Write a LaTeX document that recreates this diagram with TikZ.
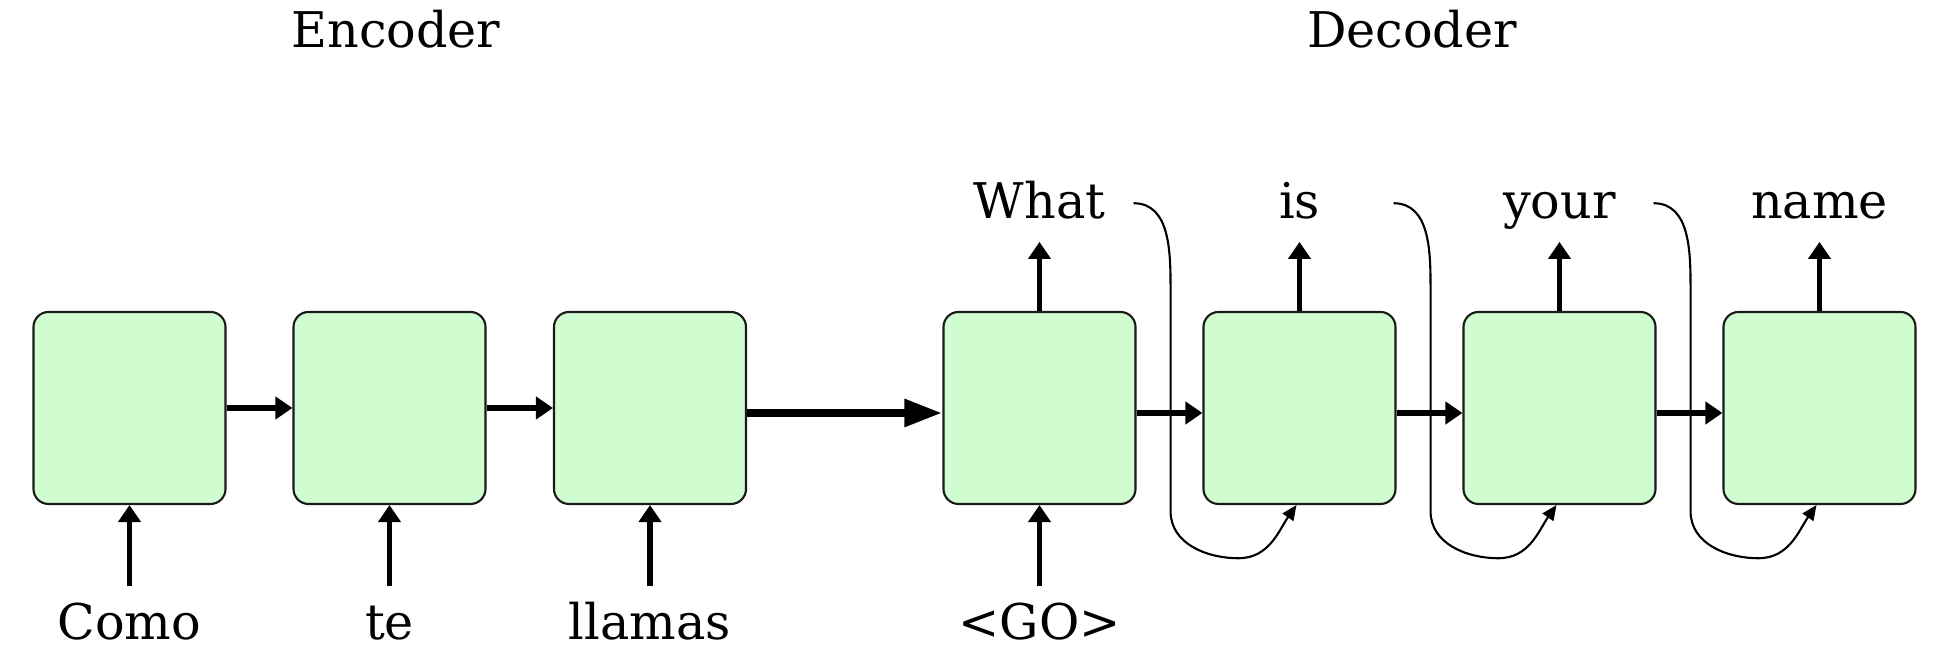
\documentclass[tikz,border=0pt]{standalone}
\usepackage{fontspec}
\setmainfont{DejaVu Serif}
\usepackage{xcolor}
\usepackage{tikz}
\usetikzlibrary{arrows.meta, positioning, calc}
\definecolor{cellgreen}{HTML}{CFFDCF}
\definecolor{celledge}{HTML}{1A1A1A}

\begin{document}
\begin{tikzpicture}[
    every node/.style={font=\fontsize{14}{17}\selectfont},
    cell/.style={rectangle, rounded corners=0.15cm, draw=celledge, line width=0.6pt,
                 fill=cellgreen, minimum width=1.92cm, minimum height=1.92cm},
    word/.style={text height=0.4cm, text depth=0.1cm, inner sep=0.13cm},
    link/.style={-{Triangle[length=0.17cm, width=0.22cm]}, line width=1.7pt},
    bridge/.style={-{Triangle[length=0.38cm, width=0.26cm]}, line width=2.4pt},
    feed/.style={-{Triangle[length=0.15cm, width=0.13cm]}, line width=0.6pt},
]
\useasboundingbox (0, 0) rectangle (19.5, -6.48);

% encoder cells
\node[cell] (e1) at (1.295, -4.08) {};
\node[cell] (e2) at (3.895, -4.08) {};
\node[cell] (e3) at (6.50, -4.08) {};
% decoder cells
\node[cell] (d1) at (10.395, -4.08) {};
\node[cell] (d2) at (12.995, -4.08) {};
\node[cell] (d3) at (15.595, -4.08) {};
\node[cell] (d4) at (18.195, -4.08) {};

\node[anchor=base] (enc) at (3.96, -0.48) {Encoder};
\node[anchor=base] (dec) at (14.12, -0.48) {Decoder};

% inputs
\node[word, below=0.81cm of e1] (in1) {Como};
\node[word, below=0.81cm of e2] (in2) {te};
\node[word, below=0.81cm of e3] (in3) {llamas};
\node[word, below=0.81cm of d1] (go) {<GO>};

% outputs
\node[word, above=0.69cm of d1] (out1) {What};
\node[word, above=0.69cm of d2] (out2) {is};
\node[word, above=0.69cm of d3] (out3) {your};
\node[word, above=0.69cm of d4] (out4) {name};

\foreach \i in {1,2,3} {
    \draw[link] (in\i) -- (e\i);
}
\draw[link] (go) -- (d1);
\foreach \i in {1,...,4} {
    \draw[link] (d\i) -- (out\i);
}

\foreach \a/\b in {e1/e2, e2/e3} {
    \draw[link] (\a.east) -- (\b.west);
}
\draw[bridge] ([yshift=-0.05cm]e3.east) -- ([yshift=-0.05cm]d1.west);
\foreach \a/\b in {d1/d2, d2/d3, d3/d4} {
    \draw[link] ([yshift=-0.05cm]\a.east) -- ([yshift=-0.05cm]\b.west);
}

% previous output fed back in
\foreach \i/\j in {1/2, 2/3, 3/4} {
    \draw[feed] ([xshift=-0.03cm]out\i -| d\i.east) to[out=0, in=90] ++(0.37, -0.88)
        -- ++(0, -2.2) to[out=-90, in=180] ++(0.68, -0.47)
        to[out=0, in=235] ([xshift=-0.03cm]d\j.south);
}

\end{tikzpicture}
\end{document}
